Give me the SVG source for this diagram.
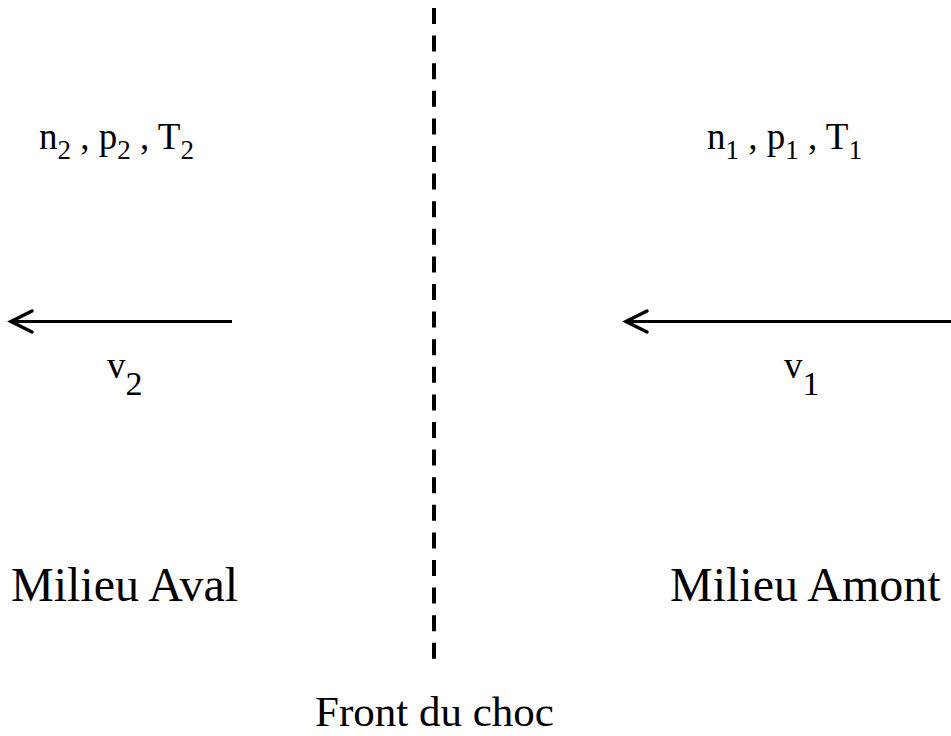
<svg xmlns="http://www.w3.org/2000/svg" width="951" height="736" viewBox="0 0 951 736">
<style>
  text { font-family: "Liberation Serif", "Times New Roman", serif; fill: #000; }
  .big { font-size: 48px; }
  .mid { font-size: 43px; }
  .var { font-size: 37px; }
  .sub { font-size: 27px; }
  .vsub { font-size: 34px; }
  .conn { stroke: #000; stroke-width: 3; fill: none; }
  .head { stroke: #000; stroke-width: 3.5; fill: none; stroke-linecap: round; stroke-linejoin: miter; }
  .dash { stroke: #000; stroke-width: 4; stroke-dasharray: 16 11.6; fill: none; }
</style>
<rect width="951" height="736" fill="#fff"/>
<g id="connectors">
  <line class="dash" x1="434" y1="8" x2="434" y2="660"/>
  <line class="conn" x1="12" y1="321.5" x2="232" y2="321.5"/>
  <polyline class="head" points="32,311 11,321.5 32,332"/>
  <line class="conn" x1="627" y1="321.5" x2="951" y2="321.5"/>
  <polyline class="head" points="647,311 626,321.5 647,332"/>
</g>
<g id="state2">
  <text class="var" x="39" y="149">n<tspan class="sub" dy="10">2</tspan><tspan dy="-10"> , p</tspan><tspan class="sub" dy="10">2</tspan><tspan dy="-10"> , T</tspan><tspan class="sub" dy="10">2</tspan></text>
</g>
<g id="state1">
  <text class="var" x="707" y="149">n<tspan class="sub" dy="10">1</tspan><tspan dy="-10"> , p</tspan><tspan class="sub" dy="10">1</tspan><tspan dy="-10"> , T</tspan><tspan class="sub" dy="10">1</tspan></text>
</g>
<g id="v2">
  <text class="var" x="107" y="378">v<tspan class="vsub" dy="17">2</tspan></text>
</g>
<g id="v1">
  <text class="var" x="784" y="378">v<tspan class="vsub" dy="17">1</tspan></text>
</g>
<g id="aval">
  <text class="big" x="11" y="601">Milieu Aval</text>
</g>
<g id="amont">
  <text class="big" x="670" y="601">Milieu Amont</text>
</g>
<g id="front">
  <text class="mid" x="315" y="726">Front du choc</text>
</g>
</svg>
